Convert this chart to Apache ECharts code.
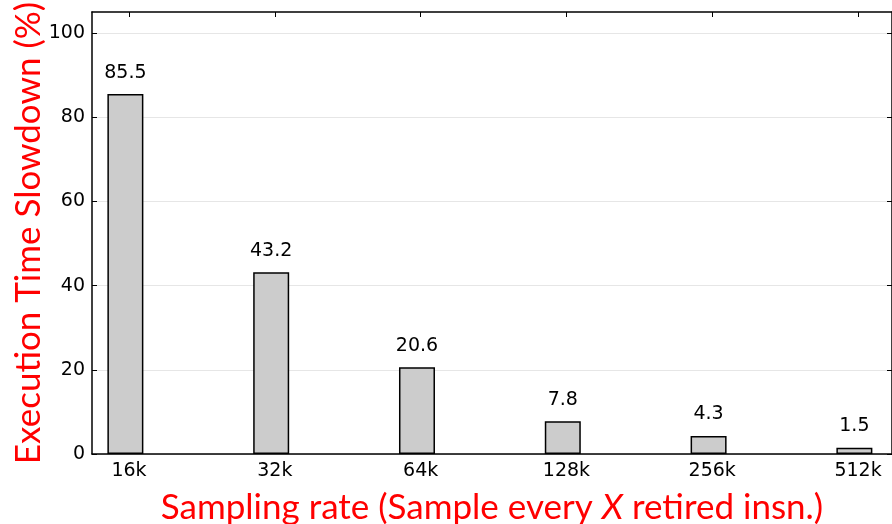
<!DOCTYPE html>
<html>
<head>
<meta charset="utf-8">
<script src="https://cdn.jsdelivr.net/npm/echarts@6/dist/echarts.min.js"></script>
<style>
  html, body { margin: 0; padding: 0; background: #fff; }
  #chart { width: 892px; height: 524px; }
</style>
</head>
<body>
<div id="chart"></div>
<script>
// Sampling rates and the resulting slowdown (%)
const categories = ['16k', '32k', '64k', '128k', '256k', '512k'];
const slowdown = [85.5, 43.2, 20.6, 7.8, 4.3, 1.5];
const yTicks = [0, 20, 40, 60, 80, 100];

const tickFont = 'DejaVu Sans';
const titleFont = 'Lato';
const titleSize = 35;
const barShift = -0.025;           // bars sit slightly left of their tick
const positions = categories.map((_, i) => i);

const chart = echarts.init(document.getElementById('chart'), null, { renderer: 'canvas' });

const xCommon = {
  type: 'value',
  min: -0.254,
  max: 5.233,
  splitLine: { show: false },
  axisLine: { show: true, onZero: false, lineStyle: { color: '#000', width: 1.5 } }
};

chart.setOption({
  animation: false,
  backgroundColor: '#fff',
  grid: { left: 92, right: 0, top: 12, bottom: 70, containLabel: false, outerBoundsMode: 'none' },
  xAxis: [
    Object.assign({}, xCommon, {
      position: 'bottom',
      name: 'Sampling rate (Sample every {i|X} retired insn.)',
      nameLocation: 'middle',
      nameGap: 36,
      nameTextStyle: {
        color: '#ff0000', fontFamily: titleFont, fontSize: titleSize,
        rich: { i: { fontStyle: 'italic', color: '#ff0000', fontFamily: titleFont, fontSize: titleSize } }
      },
      axisTick: { show: true, inside: true, length: 5, customValues: positions, lineStyle: { color: '#000' } },
      axisLabel: {
        customValues: positions,
        formatter: v => categories[Math.round(v)],
        color: '#000', fontFamily: tickFont, fontSize: 19, margin: 8
      }
    }),
    Object.assign({}, xCommon, {
      position: 'top',
      axisTick: { show: true, inside: true, length: 5, customValues: positions, lineStyle: { color: '#000' } },
      axisLabel: { show: false }
    })
  ],
  yAxis: [
    {
      type: 'value', min: 0, max: 105, position: 'left',
      name: 'Execution Time Slowdown (%)',
      nameLocation: 'middle',
      nameGap: 46,
      nameMoveOverlap: false,
      nameTextStyle: { color: '#ff0000', fontFamily: titleFont, fontSize: titleSize },
      axisLine: { show: true, onZero: false, lineStyle: { color: '#000', width: 1.5 } },
      axisTick: { show: true, inside: true, length: 5, customValues: yTicks, lineStyle: { color: '#000' } },
      axisLabel: { customValues: yTicks, color: '#000', fontFamily: tickFont, fontSize: 19, margin: 7 },
      splitLine: { show: true, lineStyle: { color: '#e6e6e6', width: 1 } }
    },
    {
      type: 'value', min: 0, max: 105, position: 'right',
      axisLine: { show: true, onZero: false, lineStyle: { color: '#000', width: 1.5 } },
      axisTick: { show: true, inside: true, length: 5, customValues: yTicks, lineStyle: { color: '#000' } },
      axisLabel: { show: false },
      splitLine: { show: false }
    }
  ],
  series: [{
    type: 'bar',
    xAxisIndex: 0,
    yAxisIndex: 0,
    barWidth: 36,
    data: slowdown.map((v, i) => [i + barShift, v]),
    itemStyle: { color: '#cccccc', borderColor: '#000', borderWidth: 1.5 },
    label: {
      show: true, position: 'top', distance: 12,
      formatter: p => String(p.value[1]),
      color: '#000', fontFamily: tickFont, fontSize: 19
    }
  }]
});
</script>
</body>
</html>
